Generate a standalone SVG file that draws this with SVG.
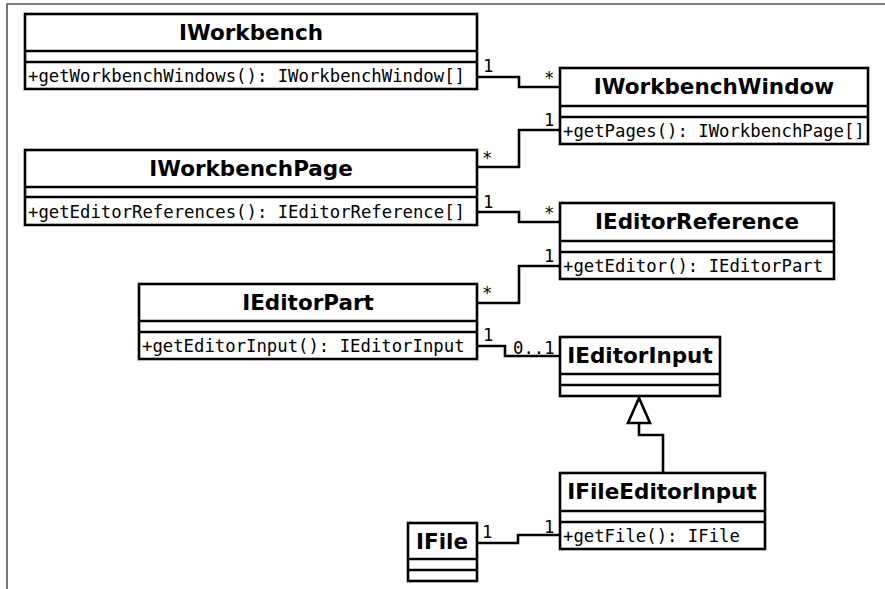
<svg xmlns="http://www.w3.org/2000/svg" width="885" height="589" viewBox="0 0 885 589">
<defs>
<style>
.box{fill:#fff;stroke:#000;stroke-width:2.6}
.sep{stroke:#000;stroke-width:2.6;fill:none}
.title{font-family:"DejaVu Sans",sans-serif;font-weight:bold;font-size:21.5px;text-anchor:middle;fill:#000}
.op{font-family:"DejaVu Sans Mono",monospace;font-size:17.3px;fill:#000}
.lbl{font-family:"DejaVu Sans Mono",monospace;font-size:17.3px;fill:#000}
.conn{fill:none;stroke:#000;stroke-width:2.6}
</style>
</defs>
<rect x="0" y="0" width="885" height="589" fill="#fff"/>
<path d="M7,589 V4 H885" fill="none" stroke="#555" stroke-width="1.6"/>

<g id="connectors">
<path class="conn" d="M477,77 H519 V87 H560"/>
<path class="conn" d="M477,167 H519 V130 H560"/>
<path class="conn" d="M477,212 H519 V222 H560"/>
<path class="conn" d="M477,303 H519 V266 H560"/>
<path class="conn" d="M477,346 H505 V356 H560"/>
<path class="conn" d="M663,473 V435 H639 V423"/>
<polygon points="639,398 628,423 650,423" fill="#fff" stroke="#000" stroke-width="2.6"/>
<path class="conn" d="M477,543 H518 V535 H560"/>
<text class="lbl" x="483" y="72">1</text>
<text class="lbl" x="544" y="84">*</text>
<text class="lbl" x="544" y="126">1</text>
<text class="lbl" x="482" y="164">*</text>
<text class="lbl" x="483" y="208">1</text>
<text class="lbl" x="544" y="219">*</text>
<text class="lbl" x="544" y="262">1</text>
<text class="lbl" x="482" y="299">*</text>
<text class="lbl" x="483" y="341">1</text>
<text class="lbl" x="513" y="354">0..1</text>
<text class="lbl" x="482" y="538">1</text>
<text class="lbl" x="544" y="533">1</text>
</g>

<g id="IWorkbench">
<rect class="box" x="25" y="14" width="452" height="75"/>
<path class="sep" d="M25,51 H477 M25,62 H477"/>
<text class="title" x="251" y="40">IWorkbench</text>
<text class="op" x="28" y="82">+getWorkbenchWindows(): IWorkbenchWindow[]</text>
</g>

<g id="IWorkbenchWindow">
<rect class="box" x="560" y="68" width="308" height="76"/>
<path class="sep" d="M560,106 H868 M560,117 H868"/>
<text class="title" x="714" y="94">IWorkbenchWindow</text>
<text class="op" x="563" y="137">+getPages(): IWorkbenchPage[]</text>
</g>

<g id="IWorkbenchPage">
<rect class="box" x="25" y="150" width="452" height="75"/>
<path class="sep" d="M25,187 H477 M25,197 H477"/>
<text class="title" x="251" y="176">IWorkbenchPage</text>
<text class="op" x="28" y="218">+getEditorReferences(): IEditorReference[]</text>
</g>

<g id="IEditorReference">
<rect class="box" x="560" y="203" width="274" height="76"/>
<path class="sep" d="M560,241 H834 M560,252 H834"/>
<text class="title" x="697" y="229">IEditorReference</text>
<text class="op" x="563" y="272">+getEditor(): IEditorPart</text>
</g>

<g id="IEditorPart">
<rect class="box" x="139" y="284" width="338" height="75"/>
<path class="sep" d="M139,321 H477 M139,332 H477"/>
<text class="title" x="308" y="310">IEditorPart</text>
<text class="op" x="142" y="352">+getEditorInput(): IEditorInput</text>
</g>

<g id="IEditorInput">
<rect class="box" x="560" y="337" width="160" height="59"/>
<path class="sep" d="M560,374 H720 M560,385 H720"/>
<text class="title" x="640" y="363">IEditorInput</text>
</g>

<g id="IFileEditorInput">
<rect class="box" x="560" y="473" width="205" height="76"/>
<path class="sep" d="M560,511 H765 M560,522 H765"/>
<text class="title" x="662" y="499">IFileEditorInput</text>
<text class="op" x="563" y="542">+getFile(): IFile</text>
</g>

<g id="IFile">
<rect class="box" x="408" y="523" width="69" height="58"/>
<path class="sep" d="M408,559 H477 M408,570 H477"/>
<text class="title" x="442" y="549">IFile</text>
</g>
</svg>
